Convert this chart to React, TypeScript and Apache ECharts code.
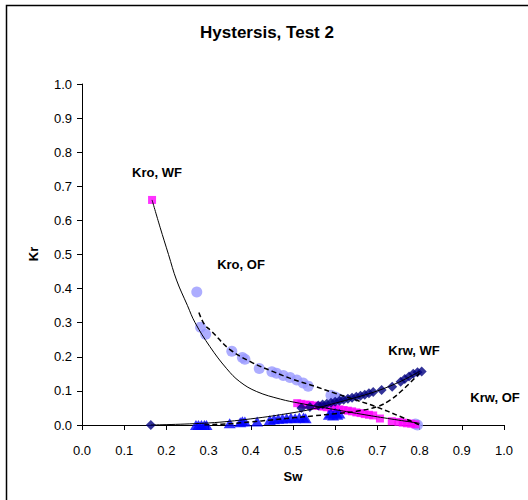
import React, { useEffect, useRef } from "react";
import * as echarts from "echarts";

const xTicks = [0, 0.1, 0.2, 0.3, 0.4, 0.5, 0.6, 0.7, 0.8, 0.9, 1.0];

const kroWF: number[][] = [
  [0.166, 0.66], [0.51, 0.064], [0.52, 0.062], [0.53, 0.06], [0.54, 0.059], [0.55, 0.057],
  [0.56, 0.056], [0.57, 0.054], [0.58, 0.052], [0.59, 0.05], [0.6, 0.048], [0.61, 0.046],
  [0.62, 0.044], [0.63, 0.042], [0.64, 0.04], [0.65, 0.037], [0.66, 0.035], [0.67, 0.032],
  [0.68, 0.03], [0.69, 0.028], [0.706, 0.019], [0.734, 0.011], [0.75, 0.009], [0.76, 0.007],
  [0.77, 0.005], [0.78, 0.004], [0.79, 0.002],
];

const kroOF: number[][] = [
  [0.272, 0.39], [0.281, 0.287], [0.293, 0.266], [0.355, 0.216], [0.38, 0.198], [0.386, 0.193],
  [0.42, 0.166], [0.45, 0.156], [0.461, 0.152], [0.477, 0.145], [0.493, 0.139], [0.509, 0.132],
  [0.524, 0.123], [0.536, 0.114], [0.59, 0.087], [0.6, 0.082], [0.608, 0.077], [0.79, 0.003],
  [0.795, 0.0],
];

const krwWF: number[][] = [
  [0.163, 0.0], [0.52, 0.05], [0.54, 0.053], [0.56, 0.057], [0.57, 0.06], [0.58, 0.062],
  [0.59, 0.065], [0.6, 0.068], [0.61, 0.071], [0.62, 0.074], [0.63, 0.077], [0.64, 0.08],
  [0.65, 0.083], [0.66, 0.086], [0.67, 0.089], [0.68, 0.093], [0.69, 0.097], [0.71, 0.103],
  [0.735, 0.112], [0.755, 0.127], [0.765, 0.135], [0.775, 0.142], [0.785, 0.15], [0.795, 0.155],
  [0.805, 0.157],
];

const krwOF: number[][] = [
  [0.27, 0.0], [0.276, 0.0], [0.283, 0.0], [0.29, 0.0], [0.295, 0.0], [0.35, 0.005],
  [0.375, 0.008], [0.38, 0.011], [0.386, 0.01], [0.415, 0.01], [0.445, 0.015], [0.455, 0.017],
  [0.465, 0.018], [0.475, 0.019], [0.485, 0.02], [0.495, 0.021], [0.505, 0.02], [0.515, 0.022],
  [0.525, 0.022], [0.53, 0.02], [0.585, 0.03], [0.59, 0.035], [0.595, 0.028], [0.6, 0.037],
  [0.605, 0.03], [0.61, 0.034],
];

const kroWFFit: number[][] = [
  [0.166, 0.66], [0.185, 0.58], [0.205, 0.5], [0.224, 0.425], [0.25, 0.35], [0.268, 0.3],
  [0.303, 0.23], [0.343, 0.165], [0.374, 0.127], [0.414, 0.098], [0.47, 0.076], [0.515, 0.064],
  [0.6, 0.045], [0.7, 0.024], [0.8, 0.005],
];

const kroOFFit: number[][] = [
  [0.277, 0.33], [0.29, 0.295], [0.307, 0.275], [0.35, 0.222], [0.4, 0.185], [0.45, 0.158],
  [0.5, 0.134], [0.55, 0.114], [0.6, 0.093], [0.65, 0.073], [0.7, 0.052], [0.75, 0.027],
  [0.8, 0.0],
];

const krwWFFit: number[][] = [
  [0.163, 0.0], [0.3, 0.006], [0.4, 0.018], [0.5, 0.036], [0.55, 0.048], [0.6, 0.064],
  [0.65, 0.081], [0.7, 0.1], [0.75, 0.125], [0.8, 0.157],
];

const krwOFFit: number[][] = [
  [0.29, 0.0], [0.35, 0.004], [0.4, 0.009], [0.45, 0.015], [0.5, 0.021], [0.55, 0.027],
  [0.6, 0.033], [0.65, 0.04], [0.7, 0.054], [0.73, 0.073], [0.76, 0.103], [0.8, 0.152],
];

const FONT = "'Liberation Sans', Arial, sans-serif";

export default function App() {
  const ref = useRef<HTMLDivElement>(null);
  useEffect(() => {
    if (!ref.current) return;
    const chart = echarts.init(ref.current, null, { renderer: "svg" });
    const axisCommon = {
      min: 0,
      max: 1,
      interval: 0.1,
      splitLine: { show: false },
      axisLine: { show: true, onZero: false, lineStyle: { color: "#000", width: 1 } },
      axisTick: { show: true, inside: false, length: 5, lineStyle: { color: "#000" } },
      axisLabel: {
        color: "#000",
        fontSize: 13,
        fontFamily: FONT,
        formatter: (v: number) => v.toFixed(1),
      },
    };
    const lineSeries = (data: number[][], dashed: boolean) => ({
      type: "line",
      data,
      smooth: 0.4,
      showSymbol: false,
      symbol: "none",
      silent: true,
      z: 5,
      lineStyle: {
        color: "#000",
        width: dashed ? 1.5 : 1,
        type: dashed ? [5, 3] : "solid",
      },
    });
    const labelText = (text: string, x: number, y: number, size: number) => ({
      type: "text",
      x,
      y,
      style: {
        text,
        fill: "#000",
        font: `bold ${size}px ${FONT}`,
        textAlign: "center",
        textVerticalAlign: "middle",
      },
    });
    chart.setOption({
      animation: false,
      backgroundColor: "#fff",
      grid: { left: 82, right: 24, top: 84, bottom: 75, containLabel: false },
      xAxis: {
        type: "value",
        ...axisCommon,
        axisLabel: { ...axisCommon.axisLabel, margin: 19 },
      },
      yAxis: {
        type: "value",
        ...axisCommon,
        axisLabel: { ...axisCommon.axisLabel, margin: 10 },
      },
      series: [
        {
          type: "scatter",
          data: kroOF,
          symbol: "circle",
          symbolSize: 11,
          itemStyle: { color: "#9999ff" },
          z: 2,
        },
        {
          type: "scatter",
          data: kroWF,
          symbol: "rect",
          symbolSize: 8,
          itemStyle: { color: "#ff00ff" },
          z: 3,
        },
        {
          type: "scatter",
          data: krwWF,
          symbol: "diamond",
          symbolSize: 10,
          itemStyle: { color: "#000080" },
          z: 3,
        },
        {
          type: "scatter",
          data: krwOF,
          symbol: "triangle",
          symbolSize: [12, 10],
          itemStyle: { color: "#0000ff" },
          z: 4,
        },
        lineSeries(kroWFFit, false),
        lineSeries(krwWFFit, false),
        lineSeries(kroOFFit, true),
        lineSeries(krwOFFit, true),
      ],
      graphic: [
        {
          type: "rect",
          shape: { x: 6.5, y: 5.5, width: 540, height: 520 },
          style: { fill: "none", stroke: "#000", lineWidth: 1.5 },
          silent: true,
        },
        labelText("Hystersis, Test 2", 267, 32, 17),
        labelText("Sw", 293, 476, 13),
        {
          type: "text",
          x: 33,
          y: 254,
          rotation: Math.PI / 2,
          style: {
            text: "Kr",
            fill: "#000",
            font: `bold 13px ${FONT}`,
            textAlign: "center",
            textVerticalAlign: "middle",
          },
        },
        labelText("Kro, WF", 157, 172, 13),
        labelText("Kro, OF", 241, 264, 13),
        labelText("Krw, WF", 414, 350, 13),
        labelText("Krw, OF", 495, 397, 13),
      ],
    });
    return () => chart.dispose();
  }, []);
  return (
    <div
      ref={ref}
      style={{ position: "absolute", left: 0, top: 0, width: 528, height: 500 }}
    />
  );
}
